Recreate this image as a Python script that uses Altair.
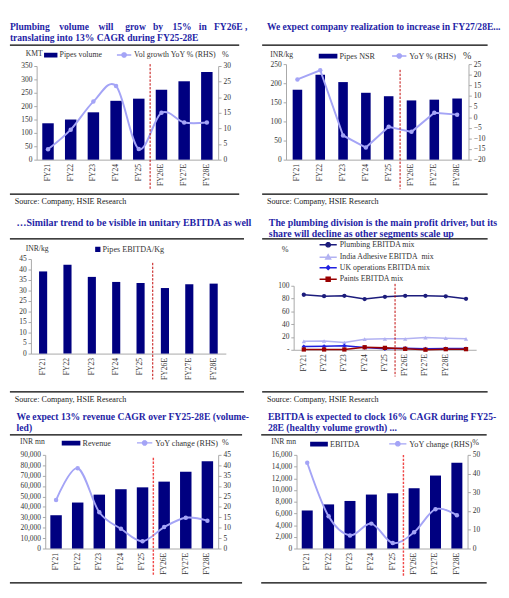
import math
import pandas as pd
import altair as alt

# ---- data ----
years = ["FY21", "FY22", "FY23", "FY24", "FY25", "FY26E", "FY27E", "FY28E"]

pipes_volume = [136, 150, 177, 220, 228, 261, 293, 328]
vol_growth = [3.3, 9.6, 18.6, 23.6, 3.4, 15.0, 11.9, 11.9]

pipes_nsr = [183, 222, 203, 175, 166, 155, 157, 160]
nsr_yoy = [17.8, 22.1, -8.6, -14.3, -4.5, -6.9, 2.1, 1.2]

ebitda_per_kg = [39.1, 42.3, 36.5, 34.1, 33.6, 31.2, 33.0, 33.3]

mix_years = years + [" "]
mix_series = ["Plumbing EBITDA mix", "India Adhesive EBITDA\u00a0 mix",
              "UK operations EBITDA mix", "Paints EBITDA mix"]
plumbing_mix = [86.0, 83.7, 84.4, 79.2, 82.7, 84.4, 84.4, 83.5, 79.7]
adhesive_mix = [13.2, 13.7, 11.4, 16.6, 17.1, 17.1, 19.1, 18.2, 17.1]
uk_mix = [5.0, 5.4, 6.4, 3.5, 1.5, 2.5, 1.5, 2.0, 2.0]
paints_mix = [0.5, 0.5, 0.5, 4.0, 3.0, 1.5, 0.2, 1.0, 1.0]

revenue = [32000, 44200, 51800, 57000, 58800, 64300, 73800, 83900]
revenue_yoy = [23.3, 38.6, 17.4, 9.5, 3.5, 10.3, 14.8, 13.4]

ebitda = [6500, 7540, 8130, 9220, 9440, 10300, 12470, 14640]
ebitda_yoy = [45.8, 17.2, 7.0, 13.3, 2.9, 8.7, 21.0, 17.8]

# tick values
vol_ticks = [0, 50, 100, 150, 200, 250, 300, 350]
vol_pct_ticks = [0, 5, 10, 15, 20, 25, 30]
nsr_ticks = [0, 50, 100, 150, 200, 250]
nsr_pct_ticks = [-20, -15, -10, -5, 0, 5, 10, 15, 20, 25]
kg_ticks = [0, 5, 10, 15, 20, 25, 30, 35, 40, 45]
mix_ticks = [0, 20, 40, 60, 80, 100]
rev_ticks = [0, 10000, 20000, 30000, 40000, 50000, 60000, 70000, 80000, 90000]
rev_pct_ticks = [0, 5, 10, 15, 20, 25, 30, 35, 40, 45]
ebitda_ticks = [0, 2000, 4000, 6000, 8000, 10000, 12000, 14000, 16000]
ebitda_pct_ticks = [0, 10, 20, 30, 40, 50]

SOURCE = "Source: Company, HSIE Research"
NB = "\u00a0"
GAP = " " + NB * 2

# ---- styling ----
SERIF = "Liberation Serif"
NAVY = "#000080"
LAV = "#A4A4F6"
HEAD = "#1F1FA6"
INK = "#333333"
GREY = "#A6A6A6"
DARKRED = "#C00000"

one = pd.DataFrame({"k": [0]})


def xaxis():
    return alt.Axis(title=None, labelAngle=-90, labelFont=SERIF, labelFontSize=8,
                    labelColor=INK, labelPadding=4, ticks=False, domainColor=GREY)


def yaxis(values, orient="left", title="", tx=0, ty=0, tsize=8, talign="left", **extra):
    return alt.Axis(values=values, orient=orient, title=title, titleAngle=0, titleX=tx,
                    titleY=ty, titleAlign=talign, titleBaseline="middle", titleFont=SERIF,
                    titleFontSize=tsize, titleFontWeight="normal", titleColor=INK,
                    labelFont=SERIF, labelFontSize=7.8, labelColor=INK, labelPadding=2,
                    labelOverlap=False, tickSize=3, tickColor=GREY, domainColor=GREY,
                    grid=False, **extra)


def heading(lines, x, y0, size=10, lh=11.5):
    return [alt.Chart(one).mark_text(align="left", baseline="alphabetic", font=SERIF,
                                     fontSize=size, fontWeight="bold", color=HEAD)
            .encode(x=alt.value(x), y=alt.value(y0 + i * lh), text=alt.value(s))
            for i, s in enumerate(lines)]


def source(x, y):
    return alt.Chart(one).mark_text(align="left", baseline="alphabetic", font=SERIF,
                                    fontSize=8.5, color="#222222").encode(
        x=alt.value(x), y=alt.value(y), text=alt.value(SOURCE))


def hrule(x1, x2, y):
    return alt.Chart(one).mark_rule(color="black", strokeWidth=1.3).encode(
        x=alt.value(x1), x2=alt.value(x2), y=alt.value(y))


def split_line(y1, y2, color=DARKRED, width=1.0):
    return alt.Chart(one).mark_rule(color=color, strokeWidth=width, strokeDash=[2.5, 1.5]).encode(
        x=alt.XDatum("FY26E", bandPosition=0, title=None), y=alt.value(y1), y2=alt.value(y2))


# legend symbols (custom paths, no arcs); every symbol ends at +1 on the right
def poly(cx, cy, r, n=8, start=math.pi / 8):
    pts = [(cx + r * math.cos(start + 2 * math.pi * k / n),
            cy + r * math.sin(start + 2 * math.pi * k / n)) for k in range(n)]
    return "M" + "L".join(f"{x:.3f},{y:.3f}" for x, y in pts) + "Z"


def rect_path(wpx, hpx=3.5, u=4):
    left, hh = 1 - wpx / u, hpx / 2 / u
    return f"M{left:.3f},{-hh:.3f}H1V{hh:.3f}H{left:.3f}Z"


def dot_path(wpx, rpx=2.3, u=4):
    left = 1 - wpx / u
    return f"M{left:.3f},0H1" + poly((left + 1) / 2, 0, rpx / u)


def legend_layer(labels, shapes, colors, x, y, direction="horizontal", col_pad=15,
                 label_offset=2, row_pad=1, size=64, font_size=8.5):
    leg = alt.Legend(title=None, orient="none", legendX=x, legendY=y, direction=direction,
                     symbolSize=size, symbolStrokeWidth=1.5, symbolOpacity=1,
                     labelOffset=label_offset, columnPadding=col_pad, rowPadding=row_pad,
                     labelFont=SERIF, labelFontSize=font_size, labelColor=INK, padding=0)
    df = pd.DataFrame({"key": labels})
    return alt.Chart(df).mark_point(filled=True, opacity=1).encode(
        shape=alt.Shape("key:N", scale=alt.Scale(domain=labels, range=shapes), legend=leg),
        fill=alt.Fill("key:N", scale=alt.Scale(domain=labels, range=colors), legend=leg),
        stroke=alt.Stroke("key:N", scale=alt.Scale(domain=labels, range=colors), legend=leg),
    ).transform_filter("false")


def combo(bars, bar_dom, bar_ticks, bar_title, pct, pct_dom, pct_ticks, bar_size,
          ltx, lty, rtx, rty, rsize=8.5, smooth=True, fmt=None):
    df = pd.DataFrame({"yr": years, "v": bars, "p": pct})
    xs = alt.Scale(domain=years, paddingInner=0, paddingOuter=0)
    extra = {"format": fmt} if fmt else {}
    b = alt.Chart(df).mark_bar(size=bar_size, color=NAVY).encode(
        x=alt.X("yr:N", scale=xs, axis=xaxis()),
        y=alt.Y("v:Q", scale=alt.Scale(domain=bar_dom),
                axis=yaxis(bar_ticks, title=bar_title, tx=ltx, ty=lty, **extra)))
    line_kw = {"interpolate": "cardinal"} if smooth else {}
    ln = alt.Chart(df).mark_line(color=LAV, strokeWidth=2, point=alt.OverlayMarkDef(
        filled=True, size=22, color=LAV, opacity=1), **line_kw).encode(
        x=alt.X("yr:N", scale=xs, axis=xaxis()),
        y=alt.Y("p:Q", scale=alt.Scale(domain=pct_dom),
                axis=yaxis(pct_ticks, orient="right", title="%", tx=rtx, ty=rty,
                           tsize=rsize, talign="center")))
    return b, ln


def panel(layers, w, h):
    return alt.layer(*layers).resolve_scale(y="independent").properties(width=w, height=h)


def spacer(w, h):
    return alt.Chart(one).mark_point(size=0, opacity=0).encode(
        x=alt.value(0), y=alt.value(0)).properties(width=w, height=h)


def ind(c):
    return c.resolve_scale(fill="independent", stroke="independent",
                           shape="independent", color="independent")


def cell(p):
    # the panel hangs below a 1px spacer, so its full bounds (heading top) line up
    return ind(alt.vconcat(spacer(1, 1), p, spacing=0))


# ---- panel 1: plumbing volume ----
b1, l1 = combo(pipes_volume, [0, 350], vol_ticks, "KMT", vol_growth, [0, 30], vol_pct_ticks,
               12, -12, -13, 7, -13)
p1 = panel([b1, l1, split_line(-2, 129), hrule(-28, 212, -22), hrule(-28, 212, 134),
            *heading(["Plumbing" + GAP + NB + "volume" + GAP + NB + "will" + GAP + NB * 2 + "grow"
                      + GAP + "by" + GAP + NB + "15%" + GAP + "in" + GAP + "FY26E ,",
                      "translating into 13% CAGR during FY25-28E"], -28, -37.5),
            source(-23, 144.5),
            legend_layer(["Pipes volume", "Vol growth YoY % (RHS)"],
                         [rect_path(12.5), dot_path(15)], [NAVY, LAV], 12, -17, col_pad=12,
                         font_size=8.2)],
           190, 98)

# ---- panel 2: realization ----
b2, l2 = combo(pipes_nsr, [0, 250], nsr_ticks, "INR/kg", nsr_yoy, [-20, 25], nsr_pct_ticks,
               10, -17, -10, -2, -9, rsize=10.5, smooth=False)
p2 = panel([b2, l2, split_line(6, 131), hrule(-25, 211, -20), hrule(-25, 211, 136),
            *heading(["We expect company realization to increase in FY27/28E..."], -20, -36),
            source(-20, 146.5),
            legend_layer(["Pipes NSR", "YoY % (RHS)"],
                         [rect_path(18), dot_path(15)], [NAVY, LAV], 44, -14, col_pad=14)],
           191, 100)

# ---- panel 3: EBITDA per kg ----
df3 = pd.DataFrame({"yr": years, "v": ebitda_per_kg})
xs3 = alt.Scale(domain=years, paddingInner=0, paddingOuter=0)
b3 = alt.Chart(df3).mark_bar(size=8.5, color=NAVY).encode(
    x=alt.X("yr:N", scale=xs3, axis=xaxis()),
    y=alt.Y("v:Q", scale=alt.Scale(domain=[0, 45]),
            axis=yaxis(kg_ticks, title="INR/kg", tx=-6, ty=-11)))
p3 = alt.layer(b3, split_line(4, 126), hrule(-22, 223, -21), hrule(-22, 223, 139),
               *heading(["\u2026Similar trend to be visible in unitary EBITDA as well"], -15, -35,
                        size=10.4),
               source(-17, 149.5),
               legend_layer(["Pipes EBITDA/Kg"], ["M0,-0.5H1V0.5H0Z"], [NAVY], 63, -15)
               ).properties(width=204, height=99)

# ---- panel 4: EBITDA mix ----
mix_colors = ["#1C1C7C", "#B2B2F2", "#2020E0", "#990000"]
mix_shapes = ["circle", "triangle-up", "diamond", "square"]
rows = []
for name, vals in zip(mix_series, [plumbing_mix, adhesive_mix, uk_mix, paints_mix]):
    for i, (yr, v) in enumerate(zip(mix_years, vals)):
        rows.append({"yr": yr, "idx": i, "series": name, "v": v})
df4 = pd.DataFrame(rows)
xs4 = alt.Scale(domain=mix_years, type="band", paddingInner=0, paddingOuter=0)
y4 = alt.Y("v:Q", scale=alt.Scale(domain=[0, 100]),
           axis=yaxis(mix_ticks, title="%", tx=-13, ty=-39, tsize=8.5,
                      labelExpr="datum.value == 0 ? '-' : datum.label"))
col4 = alt.Color("series:N", scale=alt.Scale(domain=mix_series, range=mix_colors), legend=None)
lines4 = alt.Chart(df4).mark_line(strokeWidth=1.6).encode(
    x=alt.X("yr:N", scale=xs4, axis=xaxis()), y=y4, color=col4, order="idx:Q")
pts4 = alt.Chart(df4).mark_point(filled=True, size=20, opacity=1).encode(
    x=alt.X("yr:N", scale=xs4, axis=xaxis()), y=y4, color=col4,
    shape=alt.Shape("series:N", scale=alt.Scale(domain=mix_series, range=mix_shapes), legend=None))
# unit 3px: 18px line ending at +1, marker centred on it at -2
MIX_LINE = "M-5,0H1"
mix_legend_shapes = [
    MIX_LINE + poly(-2, 0, 0.78),
    MIX_LINE + "M-2,-0.9L-1.15,0.6H-2.85Z",
    MIX_LINE + "M-2,-0.65L-1.35,0L-2,0.65L-2.65,0Z",
    MIX_LINE + "M-2.7,-0.7H-1.3V0.7H-2.7Z",
]
p4 = alt.layer(lines4, pts4, split_line(-2, 95), hrule(-33, 203, -49), hrule(-33, 203, 111),
               *heading(["The plumbing division is the main profit driver, but its",
                         "share will decline as other segments scale up"], -26, -63, size=10.3),
               source(-28, 121.5),
               legend_layer(mix_series, mix_legend_shapes, mix_colors, 38, -47,
                            direction="vertical", size=36, row_pad=1, font_size=8.2)
               ).resolve_scale(shape="independent", fill="independent", stroke="independent"
                               ).properties(width=191, height=67)

# ---- panel 5: revenue ----
b5, l5 = combo(revenue, [0, 90000], rev_ticks, "INR mn", revenue_yoy, [0, 45], rev_pct_ticks,
               12, -27, -14, 7, -14, fmt=",.0f")
p5 = panel([b5, l5, split_line(3, 127, color="#F04848", width=1.5),
            hrule(-37, 206, -21), hrule(-37, 206, 134),
            *heading(["We expect 13% revenue CAGR over FY25-28E (volume-", "led)"], -30, -36,
                     size=10.1),
            legend_layer(["Revenue", "YoY change (RHS)"],
                         [rect_path(18), dot_path(16)], [NAVY, LAV], 27, -18, col_pad=24)],
           181, 98)

# ---- panel 6: EBITDA ----
b6, l6 = combo(ebitda, [0, 16000], ebitda_ticks, "INR mn", ebitda_yoy, [0, 50], ebitda_pct_ticks,
               11.5, -27, -14, 8, -14, fmt=",.0f")
p6 = panel([b6, l6, split_line(0, 127, color="#F04848", width=1.5),
            hrule(-37, 199, -21), hrule(-37, 199, 134),
            *heading(["EBITDA is expected to clock 16% CAGR during FY25-",
                      "28E (healthy volume growth) ..."], -30, -36, size=10.1),
            legend_layer(["EBITDA", "YoY change (RHS)"],
                         [rect_path(17), dot_path(18)], [NAVY, LAV], 23, -17, col_pad=27)],
           179, 98)

# ---- layout: rows of [spacer, panel, spacer, panel], stacked by full bounds ----
row1 = ind(alt.hconcat(spacer(1, 1), cell(p1), spacer(14, 1), cell(p2), spacing=0))
row2 = ind(alt.hconcat(spacer(1, 1), cell(p3), spacer(9, 1), cell(p4), spacing=0))
row3 = ind(alt.hconcat(spacer(1, 1), cell(p5), spacer(11, 1), cell(p6), spacing=0))

chart = ind(alt.vconcat(row1, spacer(1, 12), row2, spacer(1, 9), row3,
                        spacing=0, padding=0, background="white"))
chart = chart.configure_view(strokeWidth=0)

chart.save("out.html", embed_options={"renderer": "svg", "actions": False})
